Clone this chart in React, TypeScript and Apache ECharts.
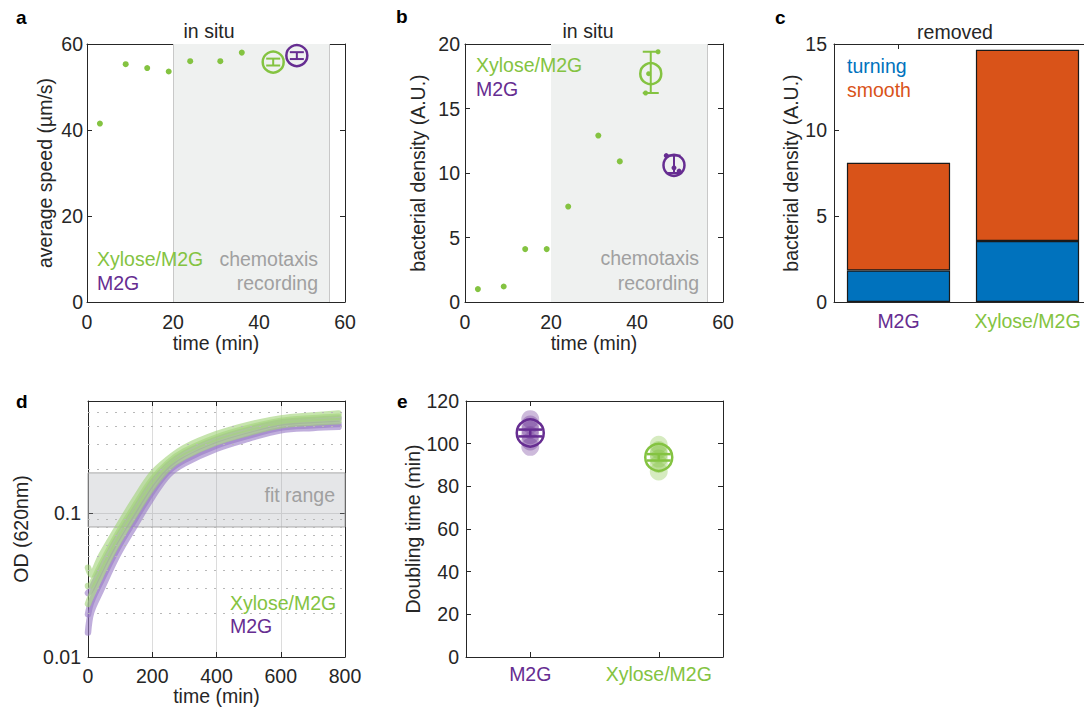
import React, { useEffect, useRef } from 'react';
import * as echarts from 'echarts';

// ---------- colours / fonts ----------
const GREEN = '#84C341';
const PURPLE = '#662D91';
const BLUE = '#0072BD';
const ORANGE = '#D95319';
const GRAY_TEXT = '#A0A0A0';
const AXIS = '#262626';
const FONT = '"Liberation Sans", Arial, Helvetica, sans-serif';
const FS = 19.5;

// ---------- panel a / b (in situ) ----------
const TIME_MIN = [3, 9, 14, 19, 24, 31, 36];
const SPEED_XYLOSE = [41.5, 55.3, 54.4, 53.6, 56.0, 56.0, 58.0];
const DENSITY_XYLOSE = [1.0, 1.2, 4.1, 4.1, 7.4, 12.9, 10.9];
const RECORDING_WINDOW = [20, 56.4];
// [time, low, mean, high]
const SPEED_MEAN_XYLOSE = [43.3, 55.0, 55.8, 56.6];
const SPEED_MEAN_M2G = [48.8, 56.5, 57.3, 58.1];
const DENS_MEAN_XYLOSE = [43.2, 16.2, 17.7, 19.4];
const DENS_MEAN_M2G = [48.6, 10.0, 10.6, 11.35];
const DENS_REP_XYLOSE_T = [42.0, 42.7, 44.9];
const DENS_REP_XYLOSE = [16.2, 17.7, 19.4];
const DENS_REP_M2G_T = [46.8, 48.6, 49.8];
const DENS_REP_M2G = [11.35, 10.4, 10.15];

// ---------- panel c (removed) ----------
const C_CATS = ['M2G', 'Xylose/M2G'];
const TURNING = [1.83, 3.55];
const SMOOTH = [6.27, 11.12];

// ---------- panel d (growth curves) ----------
const OD_TIME = [0, 10, 40, 90, 145, 200, 250, 300, 400, 500, 600, 700, 780];
const OD_XYLOSE_1 = [0.0417, 0.0374, 0.0501, 0.0776, 0.123, 0.187, 0.237, 0.284, 0.353, 0.41, 0.454, 0.476, 0.492];
const OD_XYLOSE_2 = [0.0311, 0.0318, 0.0434, 0.07, 0.111, 0.171, 0.224, 0.268, 0.335, 0.39, 0.436, 0.456, 0.467];
const OD_XYLOSE_3 = [0.0234, 0.0267, 0.037, 0.0608, 0.0973, 0.151, 0.205, 0.246, 0.31, 0.361, 0.407, 0.425, 0.434];
const OD_M2G_1 = [0.0278, 0.0297, 0.0407, 0.0661, 0.105, 0.163, 0.216, 0.259, 0.324, 0.378, 0.425, 0.443, 0.454];
const OD_M2G_2 = [0.0198, 0.0241, 0.0336, 0.0559, 0.0898, 0.141, 0.195, 0.234, 0.295, 0.345, 0.392, 0.407, 0.415];
const OD_M2G_3 = [0.0148, 0.0205, 0.029, 0.0501, 0.0813, 0.129, 0.184, 0.221, 0.28, 0.329, 0.376, 0.39, 0.397];
const FIT_RANGE = [0.08, 0.19];
const OD_MINOR = [0.02, 0.03, 0.04, 0.05, 0.06, 0.07, 0.08, 0.09, 0.2, 0.3, 0.4, 0.5];

// ---------- panel e (doubling time) ----------
const E_CATS = ['M2G', 'Xylose/M2G'];
const DT_M2G = [111.5, 109, 106.5, 104, 101, 98.5];
const DT_XYLOSE = [99.5, 97, 95, 93, 90.5, 87];
const DT_MEAN = [105.0, 93.6];
const DT_ERR = [1.6, 1.5];

// ---------- helpers ----------
type AnyObj = Record<string, any>;

function axis(
  type: string,
  gridIndex: number,
  position: string,
  showLabel: boolean,
  extra: AnyObj = {},
  labelExtra: AnyObj = {}
): AnyObj {
  return {
    type,
    gridIndex,
    position,
    nameLocation: 'middle',
    nameTextStyle: { color: AXIS, fontSize: FS, fontFamily: FONT },
    axisLine: { show: true, onZero: false, lineStyle: { color: AXIS, width: 1 } },
    axisTick: { show: true, inside: true, length: 5, lineStyle: { color: AXIS, width: 1 } },
    splitLine: { show: false },
    axisLabel: { show: showLabel, color: AXIS, fontSize: FS, fontFamily: FONT, margin: 6, ...labelExtra },
    ...extra,
  };
}

function errorBar(xi: number, yi: number, data: number[][], color: string, capHalf: number, lw: number): AnyObj {
  return {
    type: 'custom',
    xAxisIndex: xi,
    yAxisIndex: yi,
    z: 6,
    silent: true,
    data,
    renderItem: (_p: any, api: any) => {
      const x = api.value(0);
      const a = api.coord([x, api.value(1)]);
      const b = api.coord([x, api.value(2)]);
      const st = { stroke: color, lineWidth: lw };
      return {
        type: 'group',
        children: [
          { type: 'line', shape: { x1: a[0], y1: a[1], x2: b[0], y2: b[1] }, style: st },
          { type: 'line', shape: { x1: a[0] - capHalf, y1: a[1], x2: a[0] + capHalf, y2: a[1] }, style: st },
          { type: 'line', shape: { x1: b[0] - capHalf, y1: b[1], x2: b[0] + capHalf, y2: b[1] }, style: st },
        ],
      };
    },
  };
}

function ring(xi: number, yi: number, data: number[][], color: string, size: number, lw: number): AnyObj {
  return {
    type: 'scatter',
    xAxisIndex: xi,
    yAxisIndex: yi,
    z: 7,
    silent: true,
    symbol: 'circle',
    symbolSize: size,
    itemStyle: { color: 'rgba(255,255,255,0)', borderColor: color, borderWidth: lw, opacity: 1 },
    data,
  };
}

function text(x: number, y: number, t: string, color: string, align = 'left', extra: AnyObj = {}): AnyObj {
  return {
    type: 'text',
    x,
    y,
    z: 20,
    silent: true,
    style: {
      text: t,
      fill: color,
      font: `${extra.bold ? 'bold ' : ''}${extra.size || FS}px ${FONT}`,
      textAlign: align,
      align,
      textVerticalAlign: 'middle',
      verticalAlign: 'middle',
    },
  };
}

function buildOption(): AnyObj {
  const catColor = (v: string) => (v === 'M2G' ? PURPLE : GREEN);
  const logLabel = (v: number) => {
    const l = Math.log10(v);
    return Math.abs(l - Math.round(l)) < 1e-6 ? String(Number(v.toPrecision(3))) : '';
  };
  const catTick = { show: true, inside: true, length: 5, alignWithLabel: true, lineStyle: { color: AXIS } };

  const grids = [
    { left: 87, top: 44, width: 258, height: 258 },
    { left: 465, top: 44, width: 258, height: 258 },
    { left: 834, top: 44, width: 258, height: 258 },
    { left: 88, top: 401, width: 257, height: 256 },
    { left: 466, top: 401, width: 257, height: 256 },
  ].map((g) => ({ ...g, containLabel: false, outerBoundsMode: 'none', show: false }));

  const xAxis = [
    // a
    axis('value', 0, 'bottom', true, { min: 0, max: 60, interval: 20, name: 'time (min)', nameGap: 31 }, { margin: 10 }),
    axis('value', 0, 'top', false, { min: 0, max: 60, interval: 20 }),
    // b
    axis('value', 1, 'bottom', true, { min: 0, max: 60, interval: 20, name: 'time (min)', nameGap: 31 }, { margin: 10 }),
    axis('value', 1, 'top', false, { min: 0, max: 60, interval: 20 }),
    // c
    axis('category', 2, 'bottom', true, { data: C_CATS, axisTick: catTick }, { margin: 9, color: catColor, interval: 0, hideOverlap: false }),
    axis('category', 2, 'top', false, { data: C_CATS, axisTick: catTick }),
    // d
    axis('value', 3, 'bottom', true, {
      min: 0, max: 800, interval: 200, name: 'time (min)', nameGap: 28,
      splitLine: { show: true, lineStyle: { color: '#DCDCDC', width: 1 } },
    }, { margin: 8.5 }),
    axis('value', 3, 'top', false, { min: 0, max: 800, interval: 200 }),
    // e
    axis('category', 4, 'bottom', true, { data: E_CATS, axisTick: catTick }, { margin: 7, color: catColor, interval: 0, hideOverlap: false }),
    axis('category', 4, 'top', false, { data: E_CATS, axisTick: catTick }),
  ];

  const yAxis = [
    // a
    axis('value', 0, 'left', true, { min: 0, max: 60, interval: 20, name: 'average speed (µm/s)', nameGap: 32 }, { margin: 4 }),
    axis('value', 0, 'right', false, { min: 0, max: 60, interval: 20 }),
    // b
    axis('value', 1, 'left', true, { min: 0, max: 20, interval: 5, name: 'bacterial density (A.U.)', nameGap: 37 }, { margin: 5 }),
    axis('value', 1, 'right', false, { min: 0, max: 20, interval: 5 }),
    // c
    axis('value', 2, 'left', true, { min: 0, max: 15, interval: 5, name: 'bacterial density (A.U.)', nameGap: 31 }, { margin: 7 }),
    // d
    axis('log', 3, 'left', true, {
      min: 0.01, max: 0.6, logBase: 10, name: 'OD (620nm)', nameGap: 57,
      splitLine: { show: true, lineStyle: { color: '#DCDCDC', width: 1 } },
    }, { margin: 7, formatter: logLabel }),
    axis('log', 3, 'right', false, { min: 0.01, max: 0.6, logBase: 10 }),
    // e
    axis('value', 4, 'left', true, { min: 0, max: 120, interval: 20, name: 'Doubling time (min)', nameGap: 42 }, { margin: 7 }),
    axis('value', 4, 'right', false, { min: 0, max: 120, interval: 20 }),
  ];

  const zip = (xs: number[], ys: number[]) => xs.map((x, i) => [x, ys[i]]);

  const shade = (xi: number, yi: number, lines: number[]) => ({
    type: 'line',
    xAxisIndex: xi,
    yAxisIndex: yi,
    z: 1,
    silent: true,
    symbol: 'none',
    lineStyle: { opacity: 0, width: 0 },
    data: zip(TIME_MIN, TIME_MIN.map(() => 1)),
    markArea: {
      silent: true,
      itemStyle: { color: '#EFF1F0' },
      data: [[{ xAxis: RECORDING_WINDOW[0] }, { xAxis: RECORDING_WINDOW[1] }]],
    },
    markLine: {
      silent: true,
      symbol: 'none',
      label: { show: false },
      lineStyle: { color: '#C8C8C8', type: 'solid', width: 1 },
      data: lines.map((v) => ({ xAxis: v })),
    },
  });

  const dots = (xi: number, yi: number, data: number[][], color: string, size: number) => ({
    type: 'scatter',
    xAxisIndex: xi,
    yAxisIndex: yi,
    z: 5,
    silent: true,
    symbolSize: size,
    itemStyle: { color, opacity: 1 },
    data,
  });

  const odLine = (data: number[], color: string) => ({
    type: 'line',
    xAxisIndex: 6,
    yAxisIndex: 5,
    z: 4,
    silent: true,
    symbol: 'none',
    smooth: 0.35,
    lineStyle: { color, width: 6.5, opacity: 0.62, cap: 'round', join: 'round' },
    data: zip(OD_TIME, data),
  });

  const series: AnyObj[] = [
    // ---- a ----
    shade(0, 0, RECORDING_WINDOW),
    dots(0, 0, zip(TIME_MIN, SPEED_XYLOSE), GREEN, 6),
    errorBar(0, 0, [[SPEED_MEAN_XYLOSE[0], SPEED_MEAN_XYLOSE[1], SPEED_MEAN_XYLOSE[3]]], GREEN, 7, 2),
    errorBar(0, 0, [[SPEED_MEAN_M2G[0], SPEED_MEAN_M2G[1], SPEED_MEAN_M2G[3]]], PURPLE, 7, 2),
    ring(0, 0, [[SPEED_MEAN_XYLOSE[0], SPEED_MEAN_XYLOSE[2]]], GREEN, 21, 2.5),
    ring(0, 0, [[SPEED_MEAN_M2G[0], SPEED_MEAN_M2G[2]]], PURPLE, 21, 2.5),
    // ---- b ----
    shade(2, 2, [RECORDING_WINDOW[1]]),
    dots(2, 2, zip(TIME_MIN, DENSITY_XYLOSE), GREEN, 6),
    dots(2, 2, zip(DENS_REP_XYLOSE_T, DENS_REP_XYLOSE), GREEN, 5),
    dots(2, 2, zip(DENS_REP_M2G_T, DENS_REP_M2G), PURPLE, 5),
    errorBar(2, 2, [[DENS_MEAN_XYLOSE[0], DENS_MEAN_XYLOSE[1], DENS_MEAN_XYLOSE[3]]], GREEN, 8, 2),
    errorBar(2, 2, [[DENS_MEAN_M2G[0], DENS_MEAN_M2G[1], DENS_MEAN_M2G[3]]], PURPLE, 6.5, 2),
    ring(2, 2, [[DENS_MEAN_XYLOSE[0], DENS_MEAN_XYLOSE[2]]], GREEN, 21, 2.5),
    ring(2, 2, [[DENS_MEAN_M2G[0], DENS_MEAN_M2G[2]]], PURPLE, 21, 2.5),
    // ---- c ----
    {
      type: 'bar', xAxisIndex: 4, yAxisIndex: 4, stack: 'c', barWidth: '80%', silent: true,
      itemStyle: { color: BLUE, borderColor: '#1A1A1A', borderWidth: 1.2 },
      data: TURNING,
    },
    {
      type: 'bar', xAxisIndex: 4, yAxisIndex: 4, stack: 'c', barWidth: '80%', silent: true,
      itemStyle: { color: ORANGE, borderColor: '#1A1A1A', borderWidth: 1.2 },
      data: SMOOTH,
    },
    // ---- d ----
    {
      type: 'line',
      xAxisIndex: 6,
      yAxisIndex: 5,
      z: 1,
      silent: true,
      symbol: 'none',
      lineStyle: { opacity: 0, width: 0 },
      data: [[0, 0.1], [800, 0.1]],
      markArea: {
        silent: true,
        itemStyle: { color: 'rgba(160,166,172,0.28)', borderColor: '#A8A8A8', borderWidth: 1 },
        data: [[{ yAxis: FIT_RANGE[0] }, { yAxis: FIT_RANGE[1] }]],
      },
      markLine: {
        silent: true,
        symbol: 'none',
        label: { show: false },
        lineStyle: { color: '#B8B8B8', type: [2, 7], width: 1 },
        data: OD_MINOR.map((v) => ({ yAxis: v })),
      },
    },
    odLine(OD_M2G_1, '#9A7CC6'),
    odLine(OD_M2G_2, '#9A7CC6'),
    odLine(OD_M2G_3, '#9A7CC6'),
    odLine(OD_XYLOSE_1, '#A3D47A'),
    odLine(OD_XYLOSE_2, '#A3D47A'),
    odLine(OD_XYLOSE_3, '#A3D47A'),
    // ---- e ----
    dots(8, 7, DT_M2G.map((v) => [0, v]), 'rgba(102,45,145,0.33)', 18),
    dots(8, 7, DT_XYLOSE.map((v) => [1, v]), 'rgba(132,195,65,0.33)', 18),
    errorBar(8, 7, [[0, DT_MEAN[0] - DT_ERR[0], DT_MEAN[0] + DT_ERR[0]]], PURPLE, 12, 2.5),
    errorBar(8, 7, [[1, DT_MEAN[1] - DT_ERR[1], DT_MEAN[1] + DT_ERR[1]]], GREEN, 12, 2.5),
    ring(8, 7, [[0, DT_MEAN[0]]], PURPLE, 27, 2.5),
    ring(8, 7, [[1, DT_MEAN[1]]], GREEN, 27, 2.5),
  ];

  const graphic = [
    text(16, 17, 'a', '#000', 'left', { bold: true, size: 19 }),
    text(396, 16, 'b', '#000', 'left', { bold: true, size: 19 }),
    text(775, 17, 'c', '#000', 'left', { bold: true, size: 19 }),
    text(16, 401, 'd', '#000', 'left', { bold: true, size: 19 }),
    text(397, 401, 'e', '#000', 'left', { bold: true, size: 19 }),
    text(209, 31, 'in situ', AXIS, 'center'),
    text(588, 31, 'in situ', AXIS, 'center'),
    text(955, 32, 'removed', AXIS, 'center'),
    // a
    text(97, 259, 'Xylose/M2G', GREEN),
    text(97, 283, 'M2G', PURPLE),
    text(318, 259, 'chemotaxis', GRAY_TEXT, 'right'),
    text(318, 283, 'recording', GRAY_TEXT, 'right'),
    // b
    text(476, 65, 'Xylose/M2G', GREEN),
    text(476, 89, 'M2G', PURPLE),
    text(699, 258, 'chemotaxis', GRAY_TEXT, 'right'),
    text(699, 283, 'recording', GRAY_TEXT, 'right'),
    // c
    text(847, 66, 'turning', BLUE),
    text(847, 90, 'smooth', ORANGE),
    // d
    text(230, 603, 'Xylose/M2G', GREEN),
    text(230, 626, 'M2G', PURPLE),
    text(335, 495, 'fit range', GRAY_TEXT, 'right'),
  ];

  return {
    animation: false,
    backgroundColor: '#ffffff',
    textStyle: { fontFamily: FONT },
    grid: grids,
    xAxis,
    yAxis,
    series,
    graphic,
  };
}

export default function App() {
  const ref = useRef<HTMLDivElement>(null);
  useEffect(() => {
    document.body.style.margin = '0';
    const chart = echarts.init(ref.current as HTMLDivElement, null, { renderer: 'svg' });
    chart.setOption(buildOption());
    return () => chart.dispose();
  }, []);
  return <div ref={ref} style={{ width: 1084, height: 707, background: '#fff' }} />;
}
